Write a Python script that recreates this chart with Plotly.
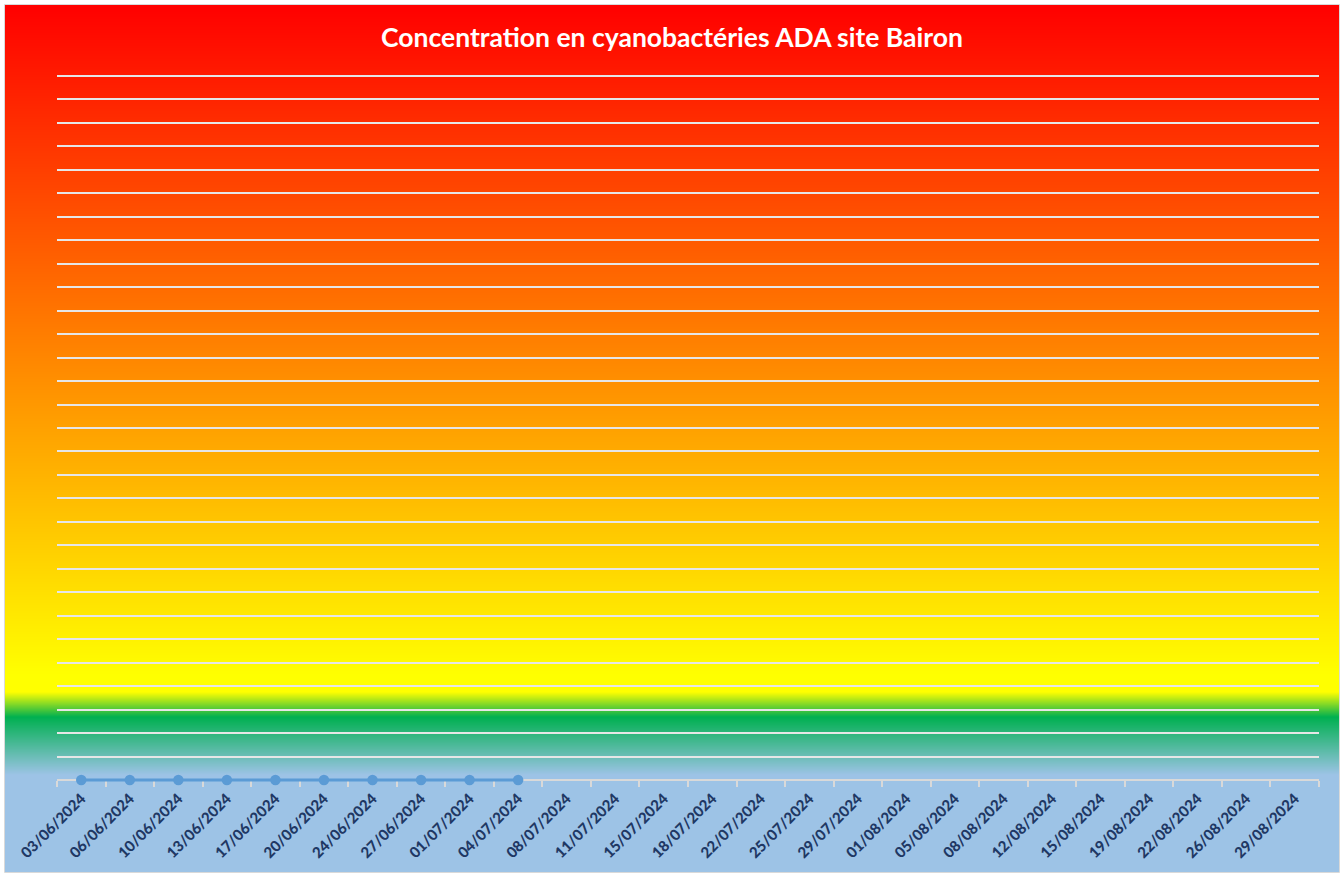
import zlib
import struct
import base64
import plotly.graph_objects as go

# ---------------- data ----------------
dates = [
    "03/06/2024", "06/06/2024", "10/06/2024", "13/06/2024", "17/06/2024",
    "20/06/2024", "24/06/2024", "27/06/2024", "01/07/2024", "04/07/2024",
    "08/07/2024", "11/07/2024", "15/07/2024", "18/07/2024", "22/07/2024",
    "25/07/2024", "29/07/2024", "01/08/2024", "05/08/2024", "08/08/2024",
    "12/08/2024", "15/08/2024", "19/08/2024", "22/08/2024", "26/08/2024",
    "29/08/2024",
]
concentration = [
    0, 0, 0, 0, 0, 0, 0, 0, 0, 0,
    None, None, None, None, None, None, None, None, None, None,
    None, None, None, None, None, None,
]
title_text = "Concentration en cyanobactéries ADA site Bairon"

# ---------------- geometry (pixels) ----------------
W, H = 1344, 873
L, R = 57, 1319                 # plot area left / right
Y0_PX, Y30_PX = 780, 76          # pixel rows of value 0 and value 30
T, B = 72, 783                   # plot area top / bottom (a bit of room around)
CA_L, CA_R, CA_T, CA_B = 5, 1339, 5, 872  # chart area (gradient + border)
scale = (Y0_PX - Y30_PX) / 30.0
Y_MIN = -(B - Y0_PX) / scale
Y_TOP = (Y0_PX - T) / scale

# background gradient stops (pixel y, rgb)
stops = [
    (CA_T, (255, 0, 0)),
    (675, (255, 255, 0)),
    (692, (255, 255, 0)),
    (717, (0, 176, 80)),
    (775, (157, 195, 230)),
    (CA_B, (157, 195, 230)),
]


def color_at(py):
    for (y0, c0), (y1, c1) in zip(stops[:-1], stops[1:]):
        if y0 <= py <= y1:
            f = 0 if y1 == y0 else (py - y0) / (y1 - y0)
            return tuple(int(round(a + (b - a) * f)) for a, b in zip(c0, c1))
    return stops[-1][1]


def png_uri(rows, width=4):
    raw = b"".join(b"\x00" + bytes(c) * width for c in rows)

    def chunk(t, d):
        c = struct.pack(">I", len(d)) + t + d
        return c + struct.pack(">I", zlib.crc32(t + d) & 0xFFFFFFFF)

    ihdr = struct.pack(">IIBBBBB", width, len(rows), 8, 2, 0, 0, 0)
    png = (b"\x89PNG\r\n\x1a\n" + chunk(b"IHDR", ihdr)
           + chunk(b"IDAT", zlib.compress(raw)) + chunk(b"IEND", b""))
    return "data:image/png;base64," + base64.b64encode(png).decode()


rows = [color_at(y + 0.5) for y in range(CA_T, CA_B)]
grad_uri = png_uri(rows)

pw, ph = R - L, B - T


def px_x(x):
    return (x - L) / pw


def px_y(y):
    return (B - y) / ph


fig = go.Figure()
fig.add_trace(go.Scatter(
    x=dates, y=concentration, mode="lines+markers",
    line=dict(color="#5B9BD5", width=3),
    marker=dict(color="#5B9BD5", size=10.5),
    cliponaxis=False, connectgaps=False, showlegend=False,
    hoverinfo="x+y",
))

fig.update_layout(
    width=W, height=H,
    margin=dict(l=L, r=W - R, t=T, b=H - B, pad=0, autoexpand=False),
    paper_bgcolor="white",
    plot_bgcolor="rgba(0,0,0,0)",
    title=dict(text="<b>" + title_text + "</b>", x=0.5, xref="container",
               xanchor="center", y=1 - 38 / H, yref="container", yanchor="middle",
               font=dict(family="Lato", size=26.5, color="white")),
    images=[dict(source=grad_uri, xref="paper", yref="paper",
                 x=px_x(CA_L), y=px_y(CA_T), sizex=(CA_R - CA_L) / pw,
                 sizey=(CA_B - CA_T) / ph, xanchor="left", yanchor="top",
                 sizing="stretch", layer="below")],
    shapes=[dict(type="rect", xref="paper", yref="paper",
                 x0=px_x(CA_L - 0.5), x1=px_x(CA_R + 0.5),
                 y0=px_y(CA_B + 0.5), y1=px_y(CA_T - 0.5),
                 line=dict(color="#D9D9D9", width=1), layer="below")],
)

fig.update_xaxes(
    type="category", range=[-0.5, len(dates) - 0.5], autorange=False,
    anchor="free", position=px_y(Y0_PX), automargin=False,
    showgrid=False, showline=True, linecolor="#D9D9D9",
    linewidth=2, ticks="outside", ticklen=6, tickcolor="#D9D9D9",
    tickwidth=2, tickson="boundaries", tickangle=-45, layer="below traces",
    ticklabelstandoff=3,
    tickfont=dict(family="Lato", size=15, color="#1F3864", weight=900),
)
fig.update_yaxes(
    range=[Y_MIN, Y_TOP], autorange=False, tick0=0, dtick=1, showgrid=True,
    gridcolor="#E6E6E6", gridwidth=1.5, layer="below traces", automargin=False,
    zeroline=False, showticklabels=False, showline=False, ticks="",
)

fig.write_html(
    "out.html",
    config={"displayModeBar": False},
    post_script="document.body.style.margin='0';document.body.style.overflow='hidden';",
)
